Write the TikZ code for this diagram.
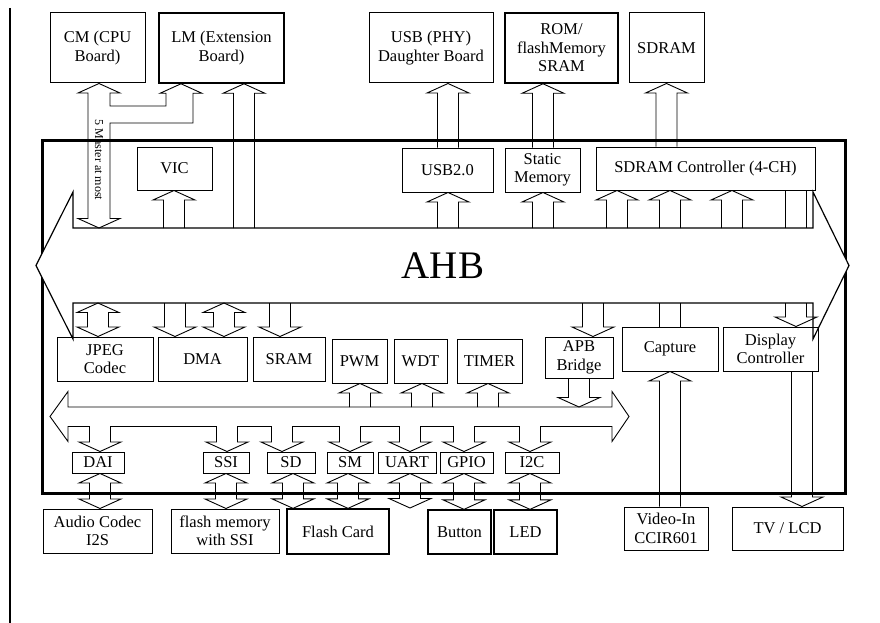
\documentclass[tikz,border=0pt]{standalone}
\usepackage{fontspec}
\setmainfont{Liberation Serif}
\usetikzlibrary{calc}
\newcommand{\shaftw}{10.5pt}
\newcommand{\headw}{21pt}
\newcommand{\headl}{9.5pt}
% hollow block arrows: #1 x, #2 from, #3 to
\newcommand{\uparr}[3]{\draw[blk] let \p1=(#2),\p2=(#3) in
  (#1pt-\shaftw,\y1) -- (#1pt-\shaftw,\y2-\headl) -- (#1pt-\headw,\y2-\headl) -- (#1pt,\y2)
  -- (#1pt+\headw,\y2-\headl) -- (#1pt+\shaftw,\y2-\headl) -- (#1pt+\shaftw,\y1);}
\newcommand{\dnarr}[3]{\draw[blk] let \p1=(#2),\p2=(#3) in
  (#1pt-\shaftw,\y1) -- (#1pt-\shaftw,\y2+\headl) -- (#1pt-\headw,\y2+\headl) -- (#1pt,\y2)
  -- (#1pt+\headw,\y2+\headl) -- (#1pt+\shaftw,\y2+\headl) -- (#1pt+\shaftw,\y1);}
\newcommand{\udarr}[3]{\draw[blk] let \p1=(#2),\p2=(#3) in
  (#1pt-\shaftw,\y1-\headl) -- (#1pt-\headw,\y1-\headl) -- (#1pt,\y1) -- (#1pt+\headw,\y1-\headl)
  -- (#1pt+\shaftw,\y1-\headl) -- (#1pt+\shaftw,\y2+\headl) -- (#1pt+\headw,\y2+\headl) -- (#1pt,\y2)
  -- (#1pt-\headw,\y2+\headl) -- (#1pt-\shaftw,\y2+\headl) -- cycle;}
\newcommand{\lnpair}[3]{\draw[blk] let \p1=(#2),\p2=(#3) in
  (#1pt-\shaftw,\y1) -- (#1pt-\shaftw,\y2) (#1pt+\shaftw,\y1) -- (#1pt+\shaftw,\y2);}

\begin{document}
\begin{tikzpicture}[x=1pt,y=-1pt]
    \tikzstyle{box}=[draw,line width=1pt,inner sep=1pt,align=center,font=\fontsize{16.5}{18.5}\selectfont]
    \tikzstyle{blk}=[draw,line width=.9pt]
    \useasboundingbox (0,0) rectangle (880,623);
    \draw[line width=2.4pt] (10,8) -- (10,623);

    % chip
    \draw[line width=3pt] (42,140) rectangle (845,493);

    % boards outside
    \node[box,minimum width=95pt,minimum height=70pt] (cm) at (97.5,48) {CM (CPU\\Board)};
    \node[box,line width=1.6pt,minimum width=125pt,minimum height=70pt] (lm) at (221.5,48) {LM (Extension\\Board)};
    \node[box,minimum width=124pt,minimum height=70pt] (usbd) at (431,48) {USB (PHY)\\Daughter Board};
    \node[box,line width=1.6pt,minimum width=113pt,minimum height=70pt] (rom) at (561.5,48) {ROM/\\flashMemory\\SRAM};
    \node[box,minimum width=75pt,minimum height=70pt] (sdram) at (666.5,48) {SDRAM};

    % above the bus
    \node[box,minimum width=75pt,minimum height=43pt] (vic) at (174.5,168.5) {VIC};
    \node[box,minimum width=91pt,minimum height=44pt] (usb2) at (447.5,170) {USB2.0};
    \node[box,minimum width=75pt,minimum height=44pt] (smem) at (542.5,170) {Static\\Memory};
    \node[box,minimum width=219pt,minimum height=43pt] (sdctl) at (705.5,168.5) {SDRAM Controller (4-CH)};

    % AHB
    \coordinate (ahbT) at (0,228);
    \coordinate (ahbB) at (0,303);
    \draw[line width=1.2pt,fill=white] (73,228) -- (813,228) -- (813,192) -- (849,265.5) -- (813,339)
      -- (813,303) -- (73,303) -- (73,339) -- (36,265.5) -- (73,192) -- cycle;
    \node[font=\fontsize{39}{39}\selectfont] (ahb) at (443,265.5) {AHB};

    % below the bus
    \node[box,minimum width=96pt,minimum height=44pt] (jpeg) at (105,359) {JPEG\\Codec};
    \node[box,minimum width=89pt,minimum height=44pt] (dma) at (202.5,359) {DMA};
    \node[box,minimum width=72pt,minimum height=44pt] (sram) at (289,359) {SRAM};
    \node[box,minimum width=55pt,minimum height=44pt] (pwm) at (359.5,361) {PWM};
    \node[box,minimum width=53pt,minimum height=44pt] (wdt) at (420.5,361) {WDT};
    \node[box,minimum width=65pt,minimum height=44pt] (timer) at (489.5,361) {TIMER};
    \node[box,minimum width=68pt,minimum height=41pt] (apb) at (579,357.5) {APB\\Bridge};
    \node[box,minimum width=96pt,minimum height=44pt] (capture) at (670,349) {Capture};
    \node[box,minimum width=95pt,minimum height=44pt] (disp) at (770.5,349) {Display\\Controller};

    % APB bus
    \coordinate (apbT) at (0,407);
    \coordinate (apbB) at (0,426);
    \draw[blk] (68,426) -- (68,441.5) -- (50,416.5) -- (68,391.5) -- (68,407) -- (612,407)
      -- (612,391.5) -- (629,416.5) -- (612,441.5) -- (612,426);
    \foreach \a/\b in {68/89.5,110.5/216.5,237.5/271.5,292.5/339.5,360.5/399.5,420.5/453.5,474.5/519.5,540.5/612}
      \draw[blk] (\a,426) -- (\b,426);

    % peripherals
    \node[box,minimum width=52pt,minimum height=21pt] (dai) at (98,462.5) {DAI};
    \node[box,minimum width=46pt,minimum height=21pt] (ssi) at (226,462.5) {SSI};
    \node[box,minimum width=48pt,minimum height=21pt] (sd) at (291,462.5) {SD};
    \node[box,minimum width=46pt,minimum height=21pt] (sm) at (350,462.5) {SM};
    \node[box,minimum width=58pt,minimum height=21pt] (uart) at (407,462.5) {UART};
    \node[box,minimum width=53pt,minimum height=21pt] (gpio) at (466.5,462.5) {GPIO};
    \node[box,minimum width=54pt,minimum height=21pt] (i2c) at (532,462.5) {I2C};

    % devices outside
    \node[box,minimum width=109pt,minimum height=44pt] (audio) at (97.5,531) {Audio Codec\\I2S};
    \node[box,minimum width=108pt,minimum height=44pt] (flashssi) at (225,531) {flash memory\\with SSI};
    \node[box,line width=1.3pt,minimum width=102pt,minimum height=45pt] (fcard) at (338,531.5) {Flash Card};
    \node[box,line width=1.3pt,minimum width=63pt,minimum height=44pt] (button) at (459.5,532) {Button};
    \node[box,line width=1.3pt,minimum width=63pt,minimum height=44pt] (led) at (525.5,532) {LED};
    \node[box,minimum width=84pt,minimum height=43pt] (video) at (666,528.5) {Video-In\\CCIR601};
    \node[box,minimum width=111pt,minimum height=43pt] (tvlcd) at (787.5,528.5) {TV / LCD};
    \coordinate (uartend) at (410,508);

    % masters: CM and LM
    \draw[blk] let \p1=(cm.south),\p2=(lm.south),\p3=(ahbT) in
      (88pt,\y3+\headl) -- (78pt,\y3+\headl) -- (99pt,\y3) -- (120pt,\y3+\headl) -- (110pt,\y3+\headl)
      -- (110,123) -- (193,123) -- (193pt,\y2-\headl) -- (202pt,\y2-\headl) -- (181pt,\y2)
      -- (160pt,\y2-\headl) -- (166pt,\y2-\headl) -- (166,106) -- (110,106) -- (110pt,\y1-\headl)
      -- (120pt,\y1-\headl) -- (99pt,\y1) -- (78pt,\y1-\headl) -- (88pt,\y1-\headl) -- cycle;
    \node[rotate=-90,inner sep=0pt,font=\fontsize{12}{12}\selectfont] (master) at (99,160) {5 Master at most};
    \uparr{244}{ahbT}{lm.south}

    % AHB to upper blocks
    \uparr{174}{ahbT}{vic.south}
    \uparr{448}{ahbT}{usb2.south}
    \uparr{448}{usb2.north}{usbd.south}
    \uparr{543}{ahbT}{smem.south}
    \uparr{543}{smem.north}{rom.south}
    \uparr{666.5}{sdctl.north}{sdram.south}
    \foreach \xc in {617,670,732}
      {\uparr{\xc}{ahbT}{sdctl.south}}
    \lnpair{796}{sdctl.south}{ahbT}

    % AHB to lower blocks
    \udarr{98}{ahbB}{jpeg.north}
    \dnarr{175}{ahbB}{dma.north}
    \udarr{224}{ahbB}{dma.north}
    \dnarr{280}{ahbB}{sram.north}
    \dnarr{593}{ahbB}{apb.north}
    \lnpair{670}{ahbB}{capture.north}
    \dnarr{796}{ahbB}{disp.north}
    \uparr{670}{video.north}{capture.south}
    \dnarr{802}{disp.south}{tvlcd.north}

    % APB side
    \dnarr{579}{apb.south}{apbT}
    \uparr{360}{apbT}{pwm.south}
    \uparr{422}{apbT}{wdt.south}
    \uparr{488}{apbT}{timer.south}
    \dnarr{100}{apbB}{dai.north}
    \dnarr{227}{apbB}{ssi.north}
    \dnarr{282}{apbB}{sd.north}
    \dnarr{350}{apbB}{sm.north}
    \dnarr{410}{apbB}{uart.north}
    \dnarr{464}{apbB}{gpio.north}
    \dnarr{530}{apbB}{i2c.north}
    \udarr{100}{dai.south}{audio.north}
    \udarr{226}{ssi.south}{flashssi.north}
    \udarr{293}{sd.south}{fcard.north}
    \udarr{348}{sm.south}{fcard.north}
    \udarr{410}{uart.south}{uartend}
    \udarr{464}{gpio.south}{button.north}
    \udarr{530}{i2c.south}{led.north}
\end{tikzpicture}
\end{document}
